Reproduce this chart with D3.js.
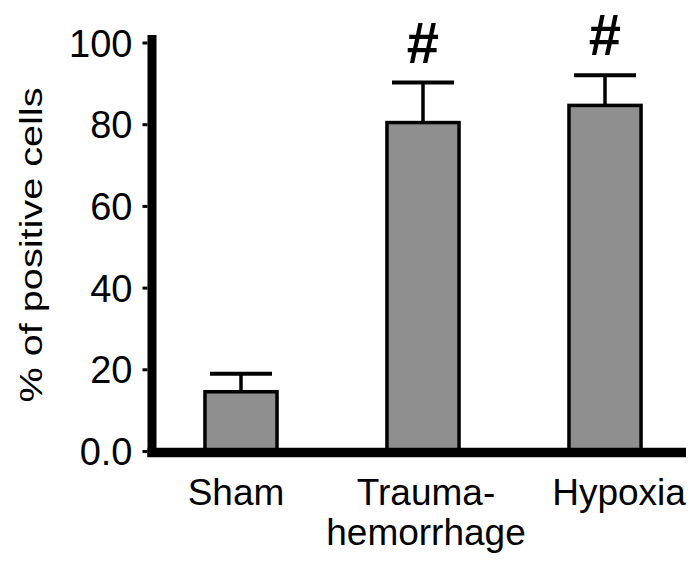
<!DOCTYPE html>
<html>
<head>
<meta charset="utf-8">
<script src="https://cdn.jsdelivr.net/npm/d3@7"></script>
<style>
  body { margin: 0; background: #fff; }
  svg text { font-family: "Liberation Sans", Arial, sans-serif; fill: #000; }
</style>
</head>
<body>
<div id="chart"></div>
<script>
// ---- data ----
const categories = ['Sham', 'Trauma-hemorrhage', 'Hypoxia'];
const labelLines = [['Sham'], ['Trauma-', 'hemorrhage'], ['Hypoxia']];
const means = [14.5, 80.4, 84.6];
const errors = [4.4, 9.8, 7.4];
const marks = ['', '#', '#'];
const yTicks = [0, 20, 40, 60, 80, 100];

const W = 694, H = 565;

// the original labels sit a little off the bar centres
const labelNudge = [-5, 3, 14];

const svg = d3.select('#chart').append('svg')
    .attr('width', W)
    .attr('height', H);

const x = d3.scaleBand()
    .domain(categories)
    .range([160, 686])
    .paddingInner(0.604)
    .paddingOuter(0.247);

const y = d3.scaleLinear()
    .domain([0, 100])
    .range([451, 42.5]);

const data = categories.map((c, i) => ({
    name: c, mean: means[i], err: errors[i], mark: marks[i], lines: labelLines[i]
}));

const cx = d => x(d.name) + x.bandwidth() / 2;

// bars
const g = svg.append('g')
    .attr('class', 'bars')
    .selectAll('.bar')
    .data(data)
    .enter()
    .append('g')
    .attr('class', 'bar');

// error bar stem + cap
g.append('line')
    .attr('x1', cx)
    .attr('x2', cx)
    .attr('y1', d => y(d.mean))
    .attr('y2', d => y(d.mean + d.err))
    .attr('stroke', '#000')
    .attr('stroke-width', 3.5);

g.append('line')
    .attr('x1', d => cx(d) - 31)
    .attr('x2', d => cx(d) + 31)
    .attr('y1', d => y(d.mean + d.err))
    .attr('y2', d => y(d.mean + d.err))
    .attr('stroke', '#000')
    .attr('stroke-width', 4);

g.append('rect')
    .attr('x', d => x(d.name))
    .attr('y', d => y(d.mean))
    .attr('width', x.bandwidth())
    .attr('height', d => y(0) - y(d.mean))
    .attr('fill', '#8f8f8f')
    .attr('stroke', '#000')
    .attr('stroke-width', 3.5);

// significance marks
g.append('text')
    .attr('x', cx)
    .attr('y', d => y(d.mean + d.err) - 20)
    .attr('text-anchor', 'middle')
    .attr('font-size', 58)
    .attr('font-weight', 'bold')
    .text(d => d.mark);

// y axis (ticks + labels), thick spine drawn separately
const yAxis = d3.axisLeft(y)
    .tickValues(yTicks)
    .tickSize(5)
    .tickPadding(10)
    .tickFormat(d => d === 0 ? '0.0' : d);

svg.append('g')
    .attr('class', 'axis y')
    .attr('transform', 'translate(147.5, 0)')
    .call(yAxis)
    .call(a => a.select('.domain').remove())
    .call(a => a.selectAll('.tick line').attr('stroke', '#000').attr('stroke-width', 3))
    .call(a => a.selectAll('.tick text')
        .attr('font-size', 38)
        .attr('font-family', '"Liberation Sans", Arial, sans-serif')
        .attr('dy', '0.36em'));

svg.append('line')
    .attr('x1', 152)
    .attr('x2', 152)
    .attr('y1', y(100) - 7.5)
    .attr('y2', y(0) + 6)
    .attr('stroke', '#000')
    .attr('stroke-width', 9);

// x axis spine
svg.append('line')
    .attr('x1', 147.5)
    .attr('x2', x.range()[1])
    .attr('y1', y(0) + 1.5)
    .attr('y2', y(0) + 1.5)
    .attr('stroke', '#000')
    .attr('stroke-width', 9.5);

// category labels
svg.append('g')
    .attr('class', 'axis x')
    .selectAll('text')
    .data(data)
    .enter()
    .append('text')
    .attr('text-anchor', 'middle')
    .attr('font-size', 37)
    .attr('y', 505)
    .each(function (d, i) {
        const t = d3.select(this);
        d.lines.forEach((ln, j) => {
            t.append('tspan')
                .attr('x', cx(d) + labelNudge[i])
                .attr('dy', j === 0 ? 0 : 40)
                .text(ln);
        });
    });

// y label
svg.append('text')
    .attr('transform', 'translate(42, 245) rotate(-90)')
    .attr('text-anchor', 'middle')
    .attr('font-size', 31)
    .attr('textLength', 315)
    .attr('lengthAdjust', 'spacingAndGlyphs')
    .text('% of positive cells');
</script>
</body>
</html>
